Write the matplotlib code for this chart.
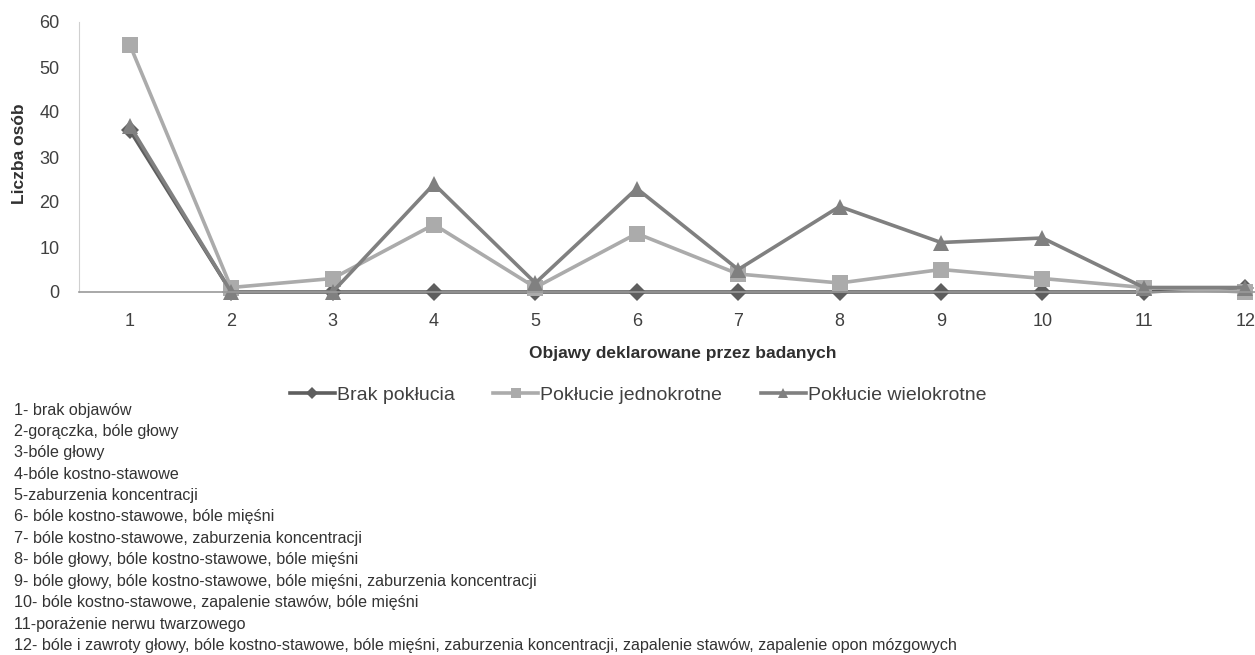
import matplotlib
matplotlib.use("Agg")
import matplotlib.pyplot as plt

categories = [1, 2, 3, 4, 5, 6, 7, 8, 9, 10, 11, 12]
brak = [36, 0, 0, 0, 0, 0, 0, 0, 0, 0, 0, 1]
jednokrotne = [55, 1, 3, 15, 1, 13, 4, 2, 5, 3, 1, 0]
wielokrotne = [37, 0, 0, 24, 2, 23, 5, 19, 11, 12, 1, 1]
series_names = ["Brak pokłucia", "Pokłucie jednokrotne", "Pokłucie wielokrotne"]
y_ticks = [0, 10, 20, 30, 40, 50, 60]
x_title = "Objawy deklarowane przez badanych"
y_title = "Liczba osób"
descriptions = [
    "1- brak objawów",
    "2-gorączka, bóle głowy",
    "3-bóle głowy",
    "4-bóle kostno-stawowe",
    "5-zaburzenia koncentracji",
    "6- bóle kostno-stawowe, bóle mięśni",
    "7- bóle kostno-stawowe, zaburzenia koncentracji",
    "8- bóle głowy, bóle kostno-stawowe, bóle mięśni",
    "9- bóle głowy, bóle kostno-stawowe, bóle mięśni, zaburzenia koncentracji",
    "10- bóle kostno-stawowe, zapalenie stawów, bóle mięśni",
    "11-porażenie nerwu twarzowego",
    "12- bóle i zawroty głowy, bóle kostno-stawowe, bóle mięśni, zaburzenia koncentracji, zapalenie stawów, zapalenie opon mózgowych",
]

plt.rcParams["font.family"] = ["Liberation Sans", "DejaVu Sans"]

W, H = 1255, 655
fig = plt.figure(figsize=(W / 100, H / 100), dpi=100)

# plot area: x=1 at px 130, spacing ~101.4 px; y 0..60 from px 292 to 22
left_px, right_px = 79, 1296
top_px, bottom_px = 22, 292
ax = fig.add_axes([left_px / W, (H - bottom_px) / H,
                   (right_px - left_px) / W, (bottom_px - top_px) / H])
ax.set_xlim(0.5, 12.5)
ax.set_ylim(0, 60)

styles = [
    dict(color="#5e5e5e", marker="D", markersize=9),
    dict(color="#ababab", marker="s", markersize=11),
    dict(color="#808080", marker="^", markersize=11),
]
for vals, name, st in zip([brak, jednokrotne, wielokrotne], series_names, styles):
    ax.plot(categories, vals, label=name, linewidth=2.6, clip_on=False,
            markeredgewidth=0, **st)

for s in ["top", "right"]:
    ax.spines[s].set_visible(False)
ax.spines["left"].set_color("#d0d0d0")
ax.spines["bottom"].set_color("#9a9a9a")
ax.spines["bottom"].set_linewidth(1.2)

ax.set_yticks(y_ticks)
ax.set_xticks(categories)
ax.tick_params(axis="both", length=0, labelsize=13, labelcolor="#404040")
ax.tick_params(axis="x", pad=15)
ax.tick_params(axis="y", pad=14)

fig.text(683 / W, 1 - 354 / H, x_title, ha="center", va="center",
         fontsize=12.5, fontweight="bold", color="#303030")
fig.text(20 / W, 1 - 154 / H, y_title, ha="center", va="center",
         rotation=90, fontsize=12.5, fontweight="bold", color="#303030")

leg = ax.legend(loc="center", bbox_to_anchor=(638 / W, 1 - 395 / H),
                bbox_transform=fig.transFigure, ncol=3, frameon=False,
                fontsize=14, handlelength=2.3, columnspacing=2.0,
                handletextpad=0.1, markerscale=0.65)
for t in leg.get_texts():
    t.set_color("#404040")

y0, dy = 410, 21.4
for i, line in enumerate(descriptions):
    fig.text(14 / W, 1 - (y0 + i * dy) / H, line, ha="left", va="center",
             fontsize=11.6, color="#333333")

fig.savefig("out.png", dpi=100)
